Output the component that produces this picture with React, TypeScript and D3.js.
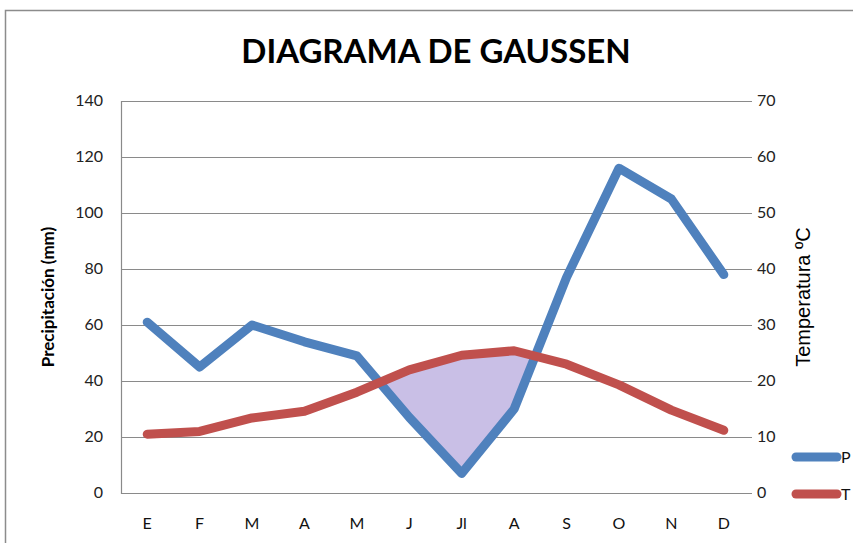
import React from 'react';
import * as d3 from 'd3';

const months = ['E', 'F', 'M', 'A', 'M', 'J', 'Jl', 'A', 'S', 'O', 'N', 'D'];
const precip = [61, 45, 60, 54, 49, 27, 7, 30, 77, 116, 105, 78];
const temp = [10.5, 11, 13.4, 14.6, 18, 22, 24.6, 25.4, 23, 19.3, 14.8, 11.2];
const precipTicks = [0, 20, 40, 60, 80, 100, 120, 140];
const tempTicks = [0, 10, 20, 30, 40, 50, 60, 70];

const W = 853;
const H = 543;
const plot = { left: 121, right: 750, top: 101, bottom: 493 };
const font = 'Lato, "Open Sans", sans-serif';

const App = () => {
  const idx = months.map((_, i) => i);
  const x = d3.scaleBand<number>().domain(idx).range([plot.left, plot.right]);
  const cx = (i: number) => (x(i) as number) + x.bandwidth() / 2;
  const yP = d3.scaleLinear().domain([0, 140]).range([plot.bottom, plot.top]);
  const yT = d3.scaleLinear().domain([0, 70]).range([plot.bottom, plot.top]);

  const line = d3.line<[number, number]>().x(d => d[0]).y(d => d[1]);
  const pPts: [number, number][] = precip.map((v, i) => [cx(i), yP(v)]);
  const tPts: [number, number][] = temp.map((v, i) => [cx(i), yT(v)]);

  // zona árida: donde la curva de T queda por encima de P
  const polys: [number, number][][] = [];
  let top: [number, number][] = [];
  let bot: [number, number][] = [];
  for (let i = 0; i < months.length; i++) {
    const d = tPts[i][1] - pPts[i][1]; // <0 => T por encima
    if (d < 0) {
      top.push(tPts[i]);
      bot.push(pPts[i]);
    }
    if (i < months.length - 1) {
      const d2 = tPts[i + 1][1] - pPts[i + 1][1];
      if ((d < 0) !== (d2 < 0)) {
        const t = d / (d - d2);
        const px = pPts[i][0] + t * (pPts[i + 1][0] - pPts[i][0]);
        const py = pPts[i][1] + t * (pPts[i + 1][1] - pPts[i][1]);
        top.push([px, py]);
        bot.push([px, py]);
        if (d < 0) {
          polys.push([...top, ...bot.reverse()]);
          top = [];
          bot = [];
        }
      }
    }
  }
  if (top.length) polys.push([...top, ...bot.reverse()]);

  return (
    <svg width={W} height={H} style={{ position: 'absolute', left: 0, top: 0 }}>
      <rect x={0} y={0} width={W} height={H} fill="#fff" />
      <rect x={5.5} y={10.5} width={W + 20} height={H + 20} fill="none" stroke="#8c8c8c" strokeWidth={1.5} />

      <text x={436} y={63} textAnchor="middle" fontFamily={font} fontWeight="bold" fontSize={33} fill="#000">
        DIAGRAMA DE GAUSSEN
      </text>

      {precipTicks.map((v, i) => (
        <g key={'g' + v}>
          {v > 0 && (
            <line x1={plot.left} x2={752} y1={Math.round(yP(v)) + 0.5} y2={Math.round(yP(v)) + 0.5} stroke="#8a8a8a" strokeWidth={1} />
          )}
          <text x={103} y={yP(v) + 5} textAnchor="end" fontFamily={font} fontSize={16} fill="#222">
            {v}
          </text>
          <text x={757} y={yT(tempTicks[i]) + 5} textAnchor="start" fontFamily={font} fontSize={16} fill="#222">
            {tempTicks[i]}
          </text>
        </g>
      ))}

      <path
        d={`M${plot.left + 0.5},${plot.top} V${plot.bottom + 0.5} H752`}
        fill="none"
        stroke="#8a8a8a"
        strokeWidth={1.2}
      />

      {polys.map((p, i) => (
        <path key={'a' + i} d={line(p) + 'Z'} fill="#c9bfe6" stroke="none" />
      ))}

      <path d={line(pPts) || ''} fill="none" stroke="#4f81bd" strokeWidth={9} strokeLinejoin="round" strokeLinecap="round" />
      <path d={line(tPts) || ''} fill="none" stroke="#c0504d" strokeWidth={9} strokeLinejoin="round" strokeLinecap="round" />

      {months.map((m, i) => (
        <text key={'m' + i} x={cx(i)} y={529} textAnchor="middle" fontFamily={font} fontSize={16} fill="#111">
          {m}
        </text>
      ))}

      <text
        transform={`translate(54,${(plot.top + plot.bottom) / 2}) rotate(-90)`}
        textAnchor="middle"
        fontFamily={font}
        fontWeight="bold"
        fontSize={17}
        fill="#000"
      >
        Precipitación  (mm)
      </text>
      <text
        transform={`translate(810,${(plot.top + plot.bottom) / 2}) rotate(-90)`}
        textAnchor="middle"
        fontFamily='"Liberation Sans", Arial, sans-serif'
        fontSize={20}
        fill="#000"
      >
        Temperatura ºC
      </text>

      <line x1={796} x2={837} y1={457} y2={457} stroke="#4f81bd" strokeWidth={9} strokeLinecap="round" />
      <text x={841} y={463} fontFamily={font} fontSize={16} fill="#111">P</text>
      <line x1={796} x2={837} y1={494} y2={494} stroke="#c0504d" strokeWidth={9} strokeLinecap="round" />
      <text x={841} y={500} fontFamily={font} fontSize={16} fill="#111">T</text>
    </svg>
  );
};

export default App;
